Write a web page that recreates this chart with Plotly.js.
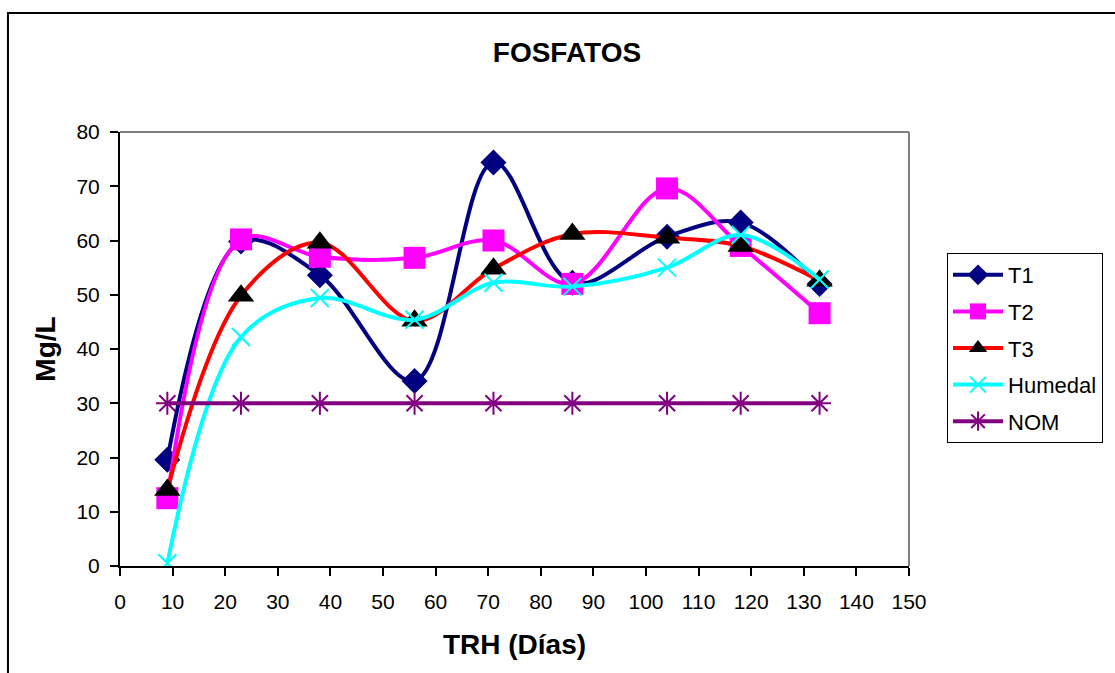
<!DOCTYPE html>
<html>
<head>
<meta charset="utf-8">
<script src="https://cdn.plot.ly/plotly-3.0.1.min.js"></script>
<style>html,body{margin:0;padding:0;background:#fff;}#chart{width:1115px;height:673px;}</style>
</head>
<body>
<div id="chart"></div>
<script>
const days = [9, 23, 38, 56, 71, 86, 104, 118, 133];
const t1 = [19.6, 59.8, 53.6, 34.1, 74.4, 52.2, 60.7, 63.3, 52.0];
const t2 = [12.5, 60.2, 57.0, 56.8, 60.0, 52.0, 69.6, 59.0, 46.6];
const t3 = [14.0, 49.8, 59.6, 45.2, 54.8, 61.2, 60.5, 59.0, 52.6];
const humedal = [0.5, 42.2, 49.4, 45.4, 52.2, 51.5, 55.0, 61.0, 52.8];
const nom = [30, 30, 30, 30, 30, 30, 30, 30, 30];
const seriesNames = ["T1", "T2", "T3", "Humedal", "NOM"];
const xTicks = [0, 10, 20, 30, 40, 50, 60, 70, 80, 90, 100, 110, 120, 130, 140, 150];
const yTicks = [0, 10, 20, 30, 40, 50, 60, 70, 80];

const FONT = "Liberation Sans, Arial, sans-serif";

function tr(name, y, lineColor, symbol, mColor, size, mLine) {
  return {
    x: days, y: y, name: name, type: "scatter", mode: "lines+markers",
    legendgroup: name,
    line: {color: lineColor, width: 4, shape: "spline", smoothing: 1},
    marker: {symbol: symbol, color: mColor, size: size,
             line: mLine ? {color: mColor, width: mLine} : {width: 0}}
  };
}

const data = [
  tr(seriesNames[0], t1, "#000080", "diamond", "#000080", 20, 0),
  tr(seriesNames[1], t2, "#FF00FF", "square", "#FF00FF", 22, 0),
  tr(seriesNames[2], t3, "#FF0000", "triangle-up", "#000000", 23, 0),
  tr(seriesNames[3], humedal, "#00FFFF", "x-thin-open", "#00FFFF", 18, 2),
  tr(seriesNames[4], nom, "#800080", "asterisk-open", "#800080", 19, 2)
];

const layout = {
  width: 1115, height: 673,
  margin: {l: 120, r: 206, t: 132, b: 107},
  paper_bgcolor: "#ffffff", plot_bgcolor: "#ffffff",
  font: {family: FONT, color: "#000"},
  title: {text: "<b>FOSFATOS</b>", font: {family: FONT, size: 28, color: "#000"},
          xref: "container", x: 0.5085, xanchor: "center",
          yref: "container", y: 0.9227, yanchor: "middle"},
  xaxis: {
    range: [0, 150], tickvals: xTicks, ticktext: xTicks.map(String),
    ticks: "outside", ticklen: 8, tickwidth: 2, tickcolor: "#000",
    showline: true, linecolor: "#000", linewidth: 2,
    showgrid: false, zeroline: false,
    tickfont: {size: 21, family: FONT}, ticklabelstandoff: 8,
    title: {text: "<b>TRH (Días)</b>", font: {size: 28, family: FONT}, standoff: 22}
  },
  yaxis: {
    range: [0, 80], tickvals: yTicks, ticktext: yTicks.map(String),
    ticks: "outside", ticklen: 8, tickwidth: 2, tickcolor: "#000",
    showline: true, linecolor: "#000", linewidth: 2,
    showgrid: false, zeroline: false,
    tickfont: {size: 21, family: FONT}, ticklabelstandoff: 6,
    title: {text: "<b>Mg/L</b>", font: {size: 28, family: FONT}, standoff: 13}
  },
  legend: {
    x: 1.0482, xanchor: "left", y: 0.7212, yanchor: "top",
    bordercolor: "#000", borderwidth: 1, bgcolor: "#fff",
    font: {size: 22, family: FONT}, itemwidth: 50,
    traceorder: "grouped", tracegroupgap: 5
  },
  showlegend: true,
  shapes: [
    {type: "line", xref: "paper", yref: "paper", x0: 0, x1: 1, y0: 1, y1: 1,
     line: {color: "#808080", width: 2}},
    {type: "line", xref: "paper", yref: "paper", x0: 1, x1: 1, y0: 0, y1: 1,
     line: {color: "#808080", width: 2}},
    {type: "rect", xref: "paper", yref: "paper", x0: -0.1420, x1: 1.35, y0: -0.5, y1: 1.2742,
     line: {color: "#000", width: 2}, fillcolor: "rgba(0,0,0,0)", layer: "below"}
  ]
};

Plotly.newPlot("chart", data, layout, {staticPlot: true});
</script>
</body>
</html>
